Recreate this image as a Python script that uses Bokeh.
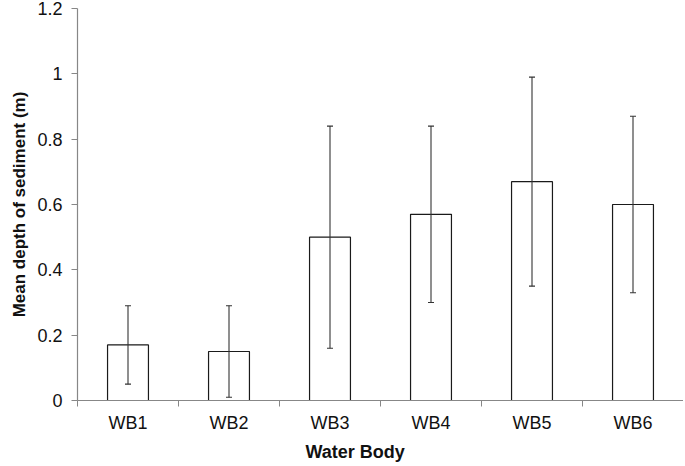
from bokeh.plotting import figure
from bokeh.models import (ColumnDataSource, Whisker, TeeHead, FixedTicker, Range1d,
                          Title, CustomJSTickFormatter)
from bokeh.embed import file_html
from bokeh.resources import INLINE

categories = ["WB1", "WB2", "WB3", "WB4", "WB5", "WB6"]
means = [0.17, 0.15, 0.50, 0.57, 0.67, 0.60]
lower = [0.05, 0.01, 0.16, 0.30, 0.35, 0.33]
upper = [0.29, 0.29, 0.84, 0.84, 0.99, 0.87]
y_ticks = [0, 0.2, 0.4, 0.6, 0.8, 1.0, 1.2]
y_tick_labels = ["0", "0.2", "0.4", "0.6", "0.8", "1", "1.2"]

xs = list(range(1, len(categories) + 1))
src = ColumnDataSource(dict(x=xs, mean=means, lower=lower, upper=upper, cat=categories))

FONT = "Liberation Sans"
AXIS_GREY = "#878787"

p = figure(frame_width=606, frame_height=392, output_backend="svg", toolbar_location=None,
           x_range=Range1d(0.5, len(categories) + 0.5), y_range=Range1d(0, 1.2),
           min_border_left=77, min_border_right=0, min_border_top=8, min_border_bottom=0)
p.outline_line_color = None
p.xgrid.visible = False
p.ygrid.visible = False
p.background_fill_color = "white"

p.vbar(x="x", top="mean", bottom=0, width=0.405, source=src,
       fill_color="white", line_color="#1a1a1a", line_width=1.2)

wh = Whisker(base="x", upper="upper", lower="lower", source=src,
             line_color="#333333", line_width=1.1, level="overlay",
             upper_head=TeeHead(size=6, line_color="#333333", line_width=1.1),
             lower_head=TeeHead(size=6, line_color="#333333", line_width=1.1))
p.add_layout(wh)

# x axis
xa = p.xaxis[0]
xa.ticker = FixedTicker(ticks=xs, minor_ticks=[i + 0.5 for i in range(0, len(categories) + 1)])
xa.major_label_overrides = {x: c for x, c in zip(xs, categories)}
xa.major_tick_out = 0
xa.major_tick_in = 0
xa.minor_tick_out = 6
xa.minor_tick_in = 0
xa.minor_tick_line_color = AXIS_GREY
xa.axis_line_color = AXIS_GREY
xa.axis_line_width = 1.2
xa.major_label_text_font = FONT
xa.major_label_text_font_size = "18px"
xa.major_label_text_color = "#111111"
xa.major_label_standoff = 6

# y axis
ya = p.yaxis[0]
ya.ticker = FixedTicker(ticks=y_ticks, minor_ticks=[])
ya.formatter = CustomJSTickFormatter(args=dict(vals=y_ticks, labs=y_tick_labels), code="""
    for (let i = 0; i < vals.length; i++) { if (Math.abs(vals[i] - tick) < 1e-9) return labs[i]; }
    return '';
""")
ya.major_tick_out = 6
ya.major_tick_in = 0
ya.major_tick_line_color = AXIS_GREY
ya.axis_line_color = AXIS_GREY
ya.axis_line_width = 1.2
ya.major_label_text_font = FONT
ya.major_label_text_font_size = "18px"
ya.major_label_text_color = "#111111"
ya.major_label_standoff = 9

p.add_layout(Title(text="Water Body", align="left", offset=228, standoff=8,
                   text_font=FONT, text_font_size="18px", text_font_style="bold",
                   text_color="#111111"), "below")
p.add_layout(Title(text="Mean depth of sediment (m)", align="center", offset=2, standoff=12,
                   text_font=FONT, text_font_size="17px", text_font_style="bold",
                   text_color="#111111"), "left")

open("out.html", "w").write(file_html(p, INLINE))
